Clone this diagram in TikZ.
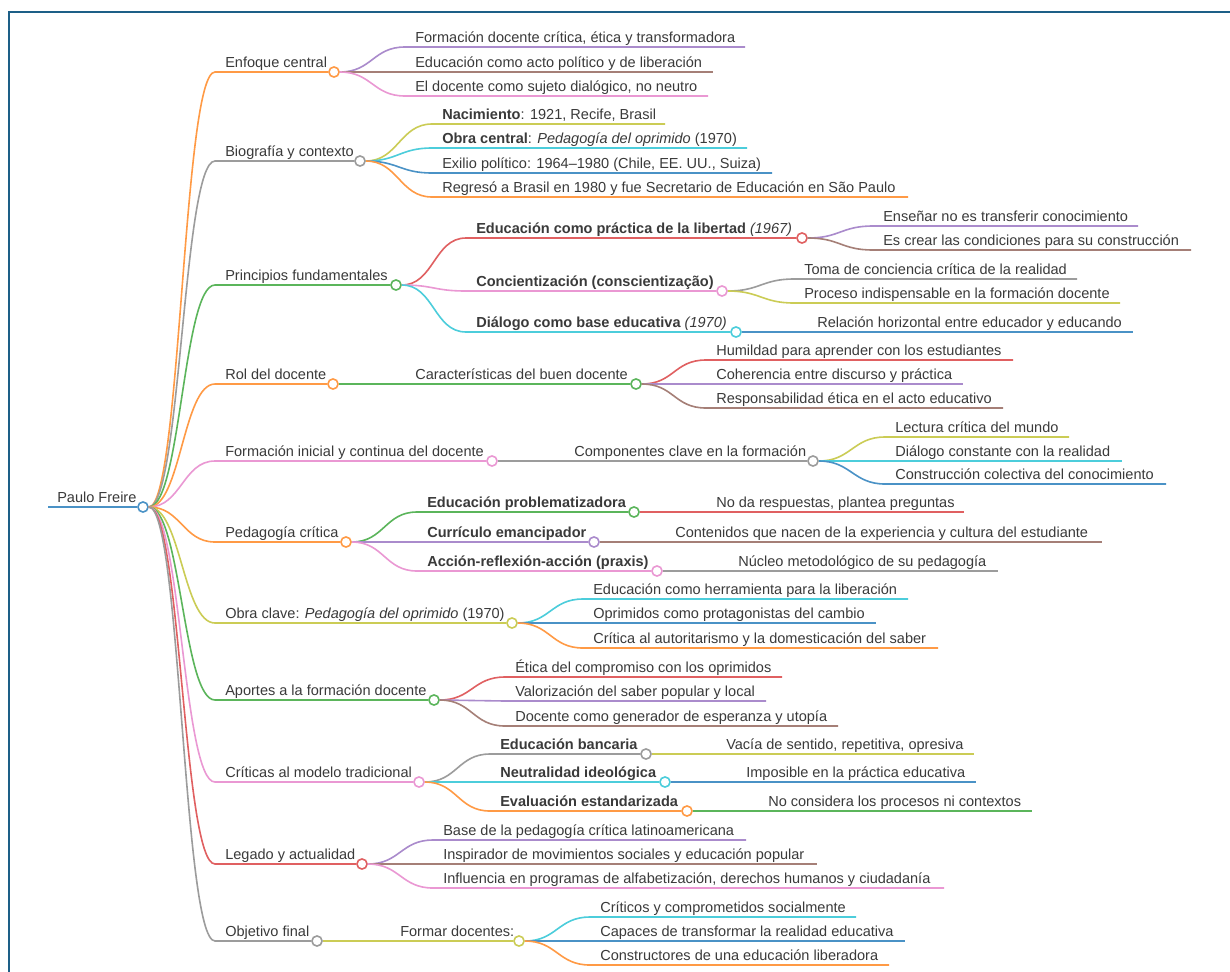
\documentclass[tikz,border=0pt]{standalone}
\usepackage{fontspec}
\setmainfont{Liberation Sans}
\definecolor{mblue}{HTML}{4A92C6}
\definecolor{morange}{HTML}{FF9A45}
\definecolor{mgreen}{HTML}{5BB55B}
\definecolor{mred}{HTML}{E06061}
\definecolor{mpurple}{HTML}{AA8BCC}
\definecolor{mbrown}{HTML}{A57F77}
\definecolor{mpink}{HTML}{EA98D3}
\definecolor{mgray}{HTML}{9C9C9C}
\definecolor{molive}{HTML}{CBCC55}
\definecolor{mcyan}{HTML}{4CCDDB}
\definecolor{framecol}{HTML}{1D5F87}
\definecolor{txt}{HTML}{3A3A3A}
\tikzset{
  edge/.style={line width=1.2pt},
  dot/.style={circle, fill=white, line width=1.2pt, minimum size=7.6pt, inner sep=0pt},
  lbl/.style={anchor=base west, inner sep=0pt, text=txt, font=\fontsize{10.9}{13}\selectfont},
}
% curved child ending in a dot
\newcommand\Mid[7]{%
  \node[dot,draw=#2] (#1) at (#6,#5) {};
  \draw[edge,#2] (#3.east) .. controls +(32,0) and +(-32,0) .. (#4-10,#5) -- (#1.west);
  \node[lbl] (#1-t) at (#4,#5-5) {#7};
}
% curved leaf
\newcommand\Leaf[7]{%
  \coordinate (#1-e) at (#6,#5);
  \draw[edge,#2] (#3.east) .. controls +(32,0) and +(-32,0) .. (#4-10,#5) -- (#1-e);
  \node[lbl] (#1) at (#4,#5-5) {#7};
}
% straight child ending in a dot
\newcommand\SMid[7]{%
  \node[dot,draw=#2] (#1) at (#6,#5) {};
  \draw[edge,#2] (#3.east) -- (#1.west);
  \node[lbl] (#1-t) at (#4,#5-5) {#7};
}
% straight leaf
\newcommand\SLeaf[7]{%
  \coordinate (#1-e) at (#6,#5);
  \draw[edge,#2] (#3.east) -- (#1-e);
  \node[lbl] (#1) at (#4,#5-5) {#7};
}
\begin{document}
\begin{tikzpicture}[x=0.75pt,y=-0.75pt]
\useasboundingbox (0,0) rectangle (1230,971);
\clip (0,0) rectangle (1230,971);
\fill[white] (0,0) rectangle (1230,971);
\draw[framecol, line width=1.5pt] (9,1000) -- (9,12) -- (1300,12);

% root
\coordinate (rs) at (48,507);
\node[dot,draw=mblue] (R) at (143,507) {};
\draw[edge,mblue] (rs) -- (R.west);
\node[lbl] (R-t) at (57,502) {Paulo Freire};

% level 1
\Mid{A}{morange}{R}{225}{72}{334}{Enfoque central}
\Mid{B}{mgray}{R}{225}{161}{360}{Biografía y contexto}
\Mid{C}{mgreen}{R}{225}{285}{396}{Principios fundamentales}
\Mid{D}{morange}{R}{225}{384}{333}{Rol del docente}
\Mid{E}{mpink}{R}{225}{461}{492}{Formación inicial y continua del docente}
\Mid{F}{morange}{R}{225}{542}{346}{Pedagogía crítica}
\Mid{G}{molive}{R}{225}{623}{512}{Obra clave: \textit{Pedagogía del oprimido} (1970)}
\Mid{H}{mgreen}{R}{225}{700}{434}{Aportes a la formación docente}
\Mid{I}{mpink}{R}{225}{782}{419}{Críticas al modelo tradicional}
\Mid{J}{mred}{R}{225}{864}{362}{Legado y actualidad}
\Mid{K}{mgray}{R}{225}{941}{317}{Objetivo final}

% Enfoque central
\Leaf{A1}{mpurple}{A}{415}{47}{745}{Formación docente crítica, ética y transformadora}
\Leaf{A2}{mbrown}{A}{415}{72}{713}{Educación como acto político y de liberación}
\Leaf{A3}{mpink}{A}{415}{96}{708}{El docente como sujeto dialógico, no neutro}

% Biografía
\Leaf{B1}{molive}{B}{442}{124}{665}{\textbf{Nacimiento}: 1921, Recife, Brasil}
\Leaf{B2}{mcyan}{B}{442}{148}{747}{\textbf{Obra central}: \textit{Pedagogía del oprimido} (1970)}
\Leaf{B3}{mblue}{B}{442}{173}{772}{Exilio político: 1964–1980 (Chile, EE. UU., Suiza)}
\Leaf{B4}{morange}{B}{442}{197}{908}{Regresó a Brasil en 1980 y fue Secretario de Educación en São Paulo}

% Principios
\Mid{C1}{mred}{C}{476}{238}{802}{\textbf{Educación como práctica de la libertad} \textit{(1967)}}
\Mid{C2}{mpink}{C}{476}{291}{722}{\textbf{Concientización (conscientização)}}
\Mid{C3}{mcyan}{C}{476}{332}{736}{\textbf{Diálogo como base educativa} \textit{(1970)}}
\Leaf{C11}{mpurple}{C1}{883}{226}{1138}{Enseñar no es transferir conocimiento}
\Leaf{C12}{mbrown}{C1}{883}{250}{1191}{Es crear las condiciones para su construcción}
\Leaf{C21}{mgray}{C2}{804}{279}{1077}{Toma de conciencia crítica de la realidad}
\Leaf{C22}{molive}{C2}{804}{303}{1120}{Proceso indispensable en la formación docente}
\SLeaf{C31}{mblue}{C3}{817}{332}{1133}{Relación horizontal entre educador y educando}

% Rol del docente
\SMid{D1}{mgreen}{D}{415}{384}{636}{Características del buen docente}
\Leaf{D11}{mred}{D1}{716}{360}{1013}{Humildad para aprender con los estudiantes}
\Leaf{D12}{mpurple}{D1}{716}{384}{963}{Coherencia entre discurso y práctica}
\Leaf{D13}{mbrown}{D1}{716}{408}{1003}{Responsabilidad ética en el acto educativo}

% Formación inicial
\SMid{E1}{mgray}{E}{574}{461}{813}{Componentes clave en la formación}
\Leaf{E11}{molive}{E1}{895}{437}{1069}{Lectura crítica del mundo}
\Leaf{E12}{mcyan}{E1}{895}{461}{1122}{Diálogo constante con la realidad}
\Leaf{E13}{mblue}{E1}{895}{484}{1166}{Construcción colectiva del conocimiento}

% Pedagogía crítica
\Mid{F1}{mgreen}{F}{427}{512}{634}{\textbf{Educación problematizadora}}
\Mid{F2}{mpurple}{F}{427}{542}{594}{\textbf{Currículo emancipador}}
\Mid{F3}{mpink}{F}{427}{571}{657}{\textbf{Acción-reflexión-acción (praxis)}}
\SLeaf{F11}{mred}{F1}{716}{512}{964}{No da respuestas, plantea preguntas}
\SLeaf{F21}{mbrown}{F2}{675}{542}{1102}{Contenidos que nacen de la experiencia y cultura del estudiante}
\SLeaf{F31}{mgray}{F3}{738}{571}{998}{Núcleo metodológico de su pedagogía}

% Obra clave
\Leaf{G1}{mcyan}{G}{593}{599}{908}{Educación como herramienta para la liberación}
\Leaf{G2}{mblue}{G}{593}{623}{876}{Oprimidos como protagonistas del cambio}
\Leaf{G3}{morange}{G}{593}{648}{938}{Crítica al autoritarismo y la domesticación del saber}

% Aportes
\Leaf{H1}{mred}{H}{515}{677}{782}{Ética del compromiso con los oprimidos}
\Leaf{H2}{mpurple}{H}{515}{701}{766}{Valorización del saber popular y local}
\Leaf{H3}{mbrown}{H}{515}{726}{838}{Docente como generador de esperanza y utopía}

% Críticas
\Mid{I1}{mgray}{I}{500}{754}{646}{\textbf{Educación bancaria}}
\Mid{I2}{mcyan}{I}{500}{782}{665}{\textbf{Neutralidad ideológica}}
\Mid{I3}{morange}{I}{500}{811}{687}{\textbf{Evaluación estandarizada}}
\SLeaf{I11}{molive}{I1}{726}{754}{974}{Vacía de sentido, repetitiva, opresiva}
\SLeaf{I21}{mblue}{I2}{746}{782}{976}{Imposible en la práctica educativa}
\SLeaf{I31}{mgreen}{I3}{768}{811}{1032}{No considera los procesos ni contextos}

% Legado
\Leaf{J1}{mpurple}{J}{443}{840}{746}{Base de la pedagogía crítica latinoamericana}
\Leaf{J2}{mbrown}{J}{443}{864}{817}{Inspirador de movimientos sociales y educación popular}
\Leaf{J3}{mpink}{J}{443}{888}{944}{Influencia en programas de alfabetización, derechos humanos y ciudadanía}

% Objetivo final
\SMid{K1}{molive}{K}{400}{941}{519}{Formar docentes:}
\Leaf{K11}{mcyan}{K1}{600}{917}{856}{Críticos y comprometidos socialmente}
\Leaf{K12}{mblue}{K1}{600}{941}{905}{Capaces de transformar la realidad educativa}
\Leaf{K13}{morange}{K1}{600}{965}{889}{Constructores de una educación liberadora}
\end{tikzpicture}
\end{document}
